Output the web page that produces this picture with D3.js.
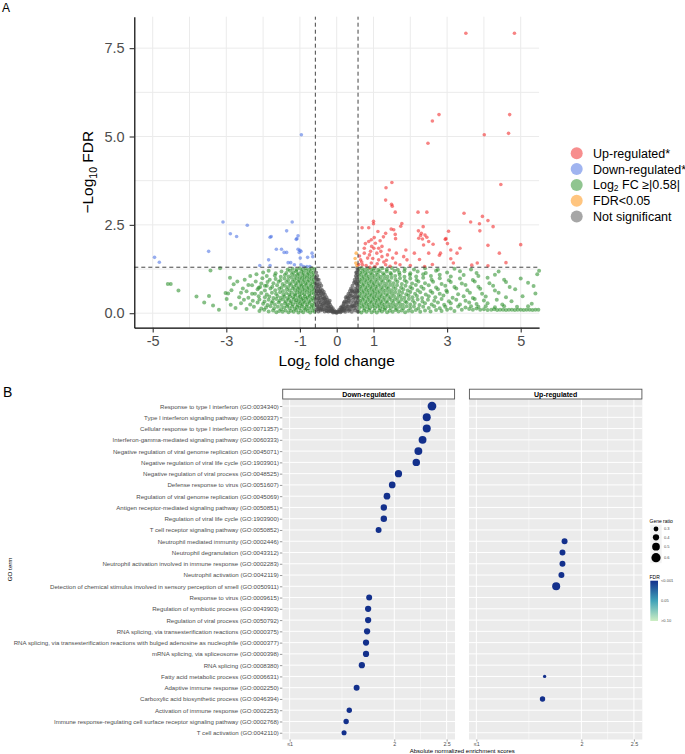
<!DOCTYPE html>
<html><head><meta charset="utf-8">
<script src="https://cdn.jsdelivr.net/npm/d3@7"></script>
<style>body{margin:0;background:#fff}svg{display:block;font-family:"Liberation Sans",Arial,Helvetica,sans-serif}</style>
</head><body><svg id="c" width="685" height="754"></svg>
<script>
// ---------------- Panel A data (log2FC, -log10 FDR) ----------------
const upPoints = [
[3.51,7.92],[4.83,7.92],[2.78,5.62],[2.6,5.44],[4.7,5.62],[4.67,5.09],[4.01,5.05],[2.48,4.81],[1.5,3.7],[1.34,3.55],[4.46,3.64],[1.33,3.2],[1.49,3.08],[1.51,3.03],[1.59,2.86],[2.21,2.86],[2.45,2.86],[3.46,2.83],[3.96,2.74],[4.11,2.62],[3.64,2.58],[3.88,2.53],[4.25,2.45],[3.89,2.33],[4.11,1.92],[5.0,1.94],[4.42,1.7],[4.6,1.43],[3.04,2.32],[2.95,2.09],[2.97,2.11],[3.01,1.97],[3.1,1.79],[3.35,1.84],[3.27,1.7],[2.82,1.7],[2.79,1.64],[3.1,1.54],[3.17,1.42],[3.82,1.42],[3.67,1.36],[2.39,1.32],[4.11,1.34],
[2.22,2.33],[2.35,2.45],[2.3,2.26],[2.4,2.21],[2.45,2.15],[2.5,2.03],[2.23,2.12],[2.36,1.93],[2.62,1.95],[2.11,1.7],[2.5,1.7],[2.28,2.2],[2.33,2.1],
[1.77,2.54],[1.74,2.46],[1.48,2.38],[1.55,2.36],[1.33,2.26],[1.59,2.23],[1.6,2.11],[1.27,2.16],[1.12,2.31],[1.0,2.6],[1.0,2.53],[0.87,2.42],[0.69,2.42],[1.02,2.14],[0.94,2.08],[0.87,2.03],[1.14,1.84],[1.01,1.84],[0.75,1.7],[0.89,1.65],[1.23,1.89],[1.43,1.79],[1.38,1.65],[1.52,1.56],[1.82,1.6],[1.88,1.79],[1.91,1.51],[1.14,1.51],[0.94,1.42],[0.65,1.51],[0.7,1.37],[1.33,1.37],[1.04,1.32],[1.72,1.37],[0.75,1.84],[0.95,1.89],[1.09,1.7],[1.23,1.6],[0.84,1.56],
[0.62,1.62],[0.68,1.45],[0.8,1.35],[0.92,1.75],[1.05,1.98],[1.18,2.05],[1.28,1.45],[1.45,1.33],[1.6,1.42],[0.78,1.97],[0.98,1.55],[1.2,1.75],[1.62,1.7],[2.0,1.35],[2.6,1.38],[2.25,1.52],[0.6,1.38],[0.9,1.3],[1.1,1.4],[1.35,1.5]
];
const downPoints = [
[-0.96,5.05],[-3.09,2.58],[-2.43,2.49],[-2.89,2.25],[-2.72,2.17],[-1.21,2.58],[-1.36,2.33],[-1.78,2.17],[-1.81,2.15],[-1.05,2.19],[-1.08,2.11],[-1.1,2.09],[-3.48,1.75],[-1.64,1.81],[-1.5,1.81],[-1.43,1.72],[-1.36,1.72],[-1.05,1.81],[-1.0,1.78],[-1.02,1.72],[-0.97,1.75],[-0.67,1.7],[-0.65,1.6],[-4.95,1.58],[-4.82,1.44],[-1.85,1.51],[-1.81,1.35],[-2.09,1.35],[-1.32,1.43],[-1.25,1.43],[-1.15,1.37],[-0.97,1.37],[-0.9,1.32],[-0.81,1.32],[-0.73,1.32],[-0.99,1.56],[-0.79,1.58]
];
const fdrOnlyPoints = [[0.5,1.55],[0.53,1.7],[0.52,1.42],[0.55,1.35]];
const fcOnlyLeft = [
[-0.6,0.04],[-0.66,0.08],[-0.72,0.02],[-0.79,0.06],[-0.85,0.1],[-0.91,0.03],[-0.97,0.07],[-1.04,0.02],[-1.1,0.09],[-1.17,0.04],[-1.24,0.07],[-1.31,0.03],[-1.39,0.08],[-1.47,0.04],[-1.56,0.06],[-1.64,0.03],[-1.73,0.08],[-1.85,0.05],[-1.97,0.1],[-2.1,0.06],
[-0.62,0.15],[-0.69,0.18],[-0.75,0.13],[-0.82,0.19],[-0.88,0.14],[-0.95,0.2],[-1.01,0.15],[-1.08,0.18],[-1.14,0.13],[-1.21,0.19],[-1.28,0.14],[-1.35,0.2],[-1.43,0.16],[-1.51,0.12],[-1.6,0.18],[-1.7,0.14],[-1.8,0.2],[-1.92,0.16],[-2.05,0.13],[-2.25,0.18],[-2.45,0.12],
[-0.61,0.26],[-0.67,0.23],[-0.73,0.29],[-0.8,0.24],[-0.86,0.3],[-0.93,0.25],[-0.99,0.28],[-1.06,0.23],[-1.12,0.3],[-1.19,0.25],[-1.26,0.29],[-1.33,0.24],[-1.41,0.28],[-1.5,0.23],[-1.58,0.3],[-1.68,0.25],[-1.77,0.29],[-1.88,0.23],[-2.0,0.27],[-2.15,0.3],[-2.35,0.25],[-2.6,0.28],
[-0.63,0.35],[-0.7,0.38],[-0.76,0.33],[-0.83,0.4],[-0.9,0.34],[-0.96,0.39],[-1.03,0.33],[-1.1,0.37],[-1.16,0.4],[-1.23,0.34],[-1.3,0.38],[-1.38,0.33],[-1.46,0.39],[-1.55,0.35],[-1.64,0.4],[-1.74,0.34],[-1.85,0.38],[-1.96,0.33],[-2.1,0.39],[-2.28,0.35],[-2.52,0.38],
[-0.6,0.46],[-0.66,0.43],[-0.73,0.49],[-0.79,0.44],[-0.86,0.48],[-0.92,0.42],[-0.99,0.47],[-1.05,0.43],[-1.12,0.5],[-1.19,0.45],[-1.27,0.48],[-1.34,0.42],[-1.42,0.47],[-1.52,0.44],[-1.61,0.49],[-1.72,0.43],[-1.83,0.47],[-1.95,0.45],[-2.12,0.48],[-2.4,0.44],
[-0.62,0.55],[-0.68,0.58],[-0.75,0.53],[-0.81,0.6],[-0.88,0.54],[-0.94,0.57],[-1.01,0.52],[-1.07,0.59],[-1.14,0.54],[-1.22,0.58],[-1.29,0.53],[-1.37,0.57],[-1.45,0.52],[-1.54,0.59],[-1.65,0.55],[-1.76,0.58],[-1.9,0.53],[-2.05,0.57],[-2.22,0.55],[-2.6,0.58],[-2.95,0.56],
[-0.61,0.65],[-0.67,0.68],[-0.74,0.63],[-0.8,0.7],[-0.87,0.64],[-0.93,0.68],[-1.0,0.62],[-1.06,0.69],[-1.13,0.65],[-1.2,0.7],[-1.28,0.64],[-1.36,0.68],[-1.46,0.63],[-1.56,0.69],[-1.67,0.65],[-1.8,0.7],[-1.95,0.64],[-2.15,0.68],[-2.45,0.62],
[-0.63,0.75],[-0.69,0.78],[-0.76,0.73],[-0.82,0.8],[-0.89,0.74],[-0.95,0.78],[-1.02,0.72],[-1.09,0.79],[-1.16,0.75],[-1.24,0.8],[-1.32,0.74],[-1.41,0.78],[-1.5,0.73],[-1.62,0.79],[-1.75,0.75],[-1.9,0.78],[-2.08,0.74],[-2.3,0.79],
[-0.6,0.85],[-0.66,0.88],[-0.72,0.83],[-0.79,0.9],[-0.85,0.84],[-0.92,0.88],[-0.98,0.82],[-1.05,0.89],[-1.12,0.85],[-1.2,0.9],[-1.28,0.84],[-1.37,0.88],[-1.47,0.83],[-1.58,0.89],[-1.72,0.85],[-1.88,0.88],[-2.05,0.84],
[-0.62,0.95],[-0.68,0.98],[-0.75,0.93],[-0.81,1.0],[-0.88,0.94],[-0.94,0.98],[-1.01,0.92],[-1.08,0.99],[-1.15,0.95],[-1.23,1.0],[-1.32,0.94],[-1.42,0.98],[-1.53,0.93],[-1.66,0.97],[-1.82,0.95],[-2.02,0.99],
[-0.61,1.05],[-0.67,1.08],[-0.74,1.03],[-0.8,1.1],[-0.87,1.04],[-0.93,1.08],[-1.0,1.02],[-1.07,1.09],[-1.14,1.05],[-1.22,1.1],[-1.31,1.04],[-1.41,1.08],[-1.52,1.03],[-1.68,1.07],[-1.9,1.05],
[-0.63,1.15],[-0.7,1.18],[-0.76,1.13],[-0.83,1.2],[-0.9,1.14],[-0.96,1.18],[-1.03,1.12],[-1.1,1.19],[-1.18,1.15],[-1.27,1.2],[-1.37,1.14],[-1.5,1.18],[-1.66,1.13],
[-0.6,1.25],[-0.68,1.27],[-0.75,1.23],[-0.84,1.28],[-0.92,1.24],[-1.0,1.27],[-1.09,1.23],[-1.2,1.26],[-1.33,1.24],
[-4.59,0.83],[-4.51,0.83],[-4.3,0.64],[-3.81,0.47],[-3.47,0.49],[-3.36,0.22],[-3.43,1.21],[-3.17,1.27],[-3.02,0.57],[-2.99,0.4],[-2.88,0.24],[-2.86,0.65],[-2.8,0.82],[-2.7,0.9],[-2.65,0.45],[-2.55,0.7],[-2.5,0.95],[-2.4,0.8],[-2.35,1.05],[-2.3,0.55],[-2.2,0.9],[-2.18,1.1],[-2.12,0.72],[-2.0,1.15],[-1.95,0.78],[-1.85,1.2],[-2.75,0.15],[-3.2,0.1],[-3.6,0.3],[-2.9,1.0]
];
const fcOnlyRight = [
[0.6,0.05],[0.67,0.02],[0.74,0.08],[0.81,0.04],[0.88,0.09],[0.95,0.03],[1.02,0.07],[1.09,0.02],[1.16,0.08],[1.23,0.05],[1.3,0.1],[1.37,0.03],[1.44,0.07],[1.52,0.04],[1.6,0.09],[1.68,0.05],[1.77,0.08],[1.86,0.03],[1.95,0.07],[2.05,0.05],[2.15,0.09],[2.27,0.04],[2.4,0.08],[2.55,0.05],[2.7,0.09],[2.85,0.06],[3.0,0.1],[3.2,0.06],[3.4,0.1],
[3.6,0.12],[3.7,0.1],[3.8,0.13],[3.9,0.1],[4.0,0.11],[4.1,0.09],[4.2,0.1],[4.28,0.11],[4.36,0.09],[4.44,0.1],[4.52,0.1],[4.6,0.09],[4.68,0.1],[4.76,0.1],[4.84,0.09],[4.92,0.1],[5.0,0.1],[5.08,0.09],[5.16,0.1],[5.24,0.1],[5.32,0.09],[5.4,0.1],[5.48,0.1],
[0.62,0.15],[0.69,0.19],[0.76,0.13],[0.83,0.18],[0.9,0.14],[0.97,0.2],[1.04,0.15],[1.11,0.19],[1.18,0.13],[1.25,0.18],[1.32,0.14],[1.39,0.2],[1.47,0.15],[1.55,0.19],[1.63,0.13],[1.72,0.18],[1.81,0.14],[1.9,0.2],[2.0,0.15],[2.1,0.19],[2.22,0.13],[2.35,0.18],[2.5,0.15],[2.65,0.2],[2.8,0.14],[2.95,0.18],[3.1,0.13],[3.3,0.19],[3.5,0.16],[3.65,0.2],[3.85,0.18],[4.05,0.2],[4.3,0.17],[4.55,0.2],[4.9,0.18],[5.2,0.2],
[0.6,0.25],[0.67,0.29],[0.74,0.23],[0.81,0.28],[0.88,0.24],[0.95,0.3],[1.02,0.25],[1.09,0.29],[1.16,0.23],[1.23,0.28],[1.3,0.24],[1.38,0.3],[1.46,0.25],[1.54,0.29],[1.62,0.23],[1.71,0.28],[1.8,0.24],[1.9,0.3],[2.0,0.25],[2.12,0.29],[2.25,0.23],[2.4,0.28],[2.58,0.25],[2.75,0.3],[2.92,0.24],[3.1,0.28],[3.35,0.25],[3.6,0.3],[3.8,0.26],[4.1,0.28],[4.5,0.25],[5.3,0.27],
[0.63,0.35],[0.7,0.39],[0.77,0.33],[0.84,0.38],[0.91,0.34],[0.98,0.4],[1.05,0.35],[1.12,0.39],[1.19,0.33],[1.26,0.38],[1.34,0.34],[1.42,0.4],[1.5,0.35],[1.58,0.39],[1.67,0.33],[1.76,0.38],[1.86,0.34],[1.96,0.4],[2.07,0.35],[2.2,0.39],[2.33,0.33],[2.48,0.38],[2.65,0.35],[2.85,0.4],[3.05,0.34],[3.25,0.38],[3.5,0.35],[3.75,0.4],[4.0,0.36],[4.35,0.38],[4.75,0.34],
[0.6,0.45],[0.67,0.49],[0.74,0.43],[0.81,0.48],[0.88,0.44],[0.95,0.5],[1.02,0.45],[1.09,0.49],[1.16,0.43],[1.23,0.48],[1.31,0.44],[1.39,0.5],[1.47,0.45],[1.56,0.49],[1.65,0.43],[1.74,0.48],[1.84,0.44],[1.95,0.5],[2.06,0.45],[2.18,0.49],[2.32,0.43],[2.5,0.48],[2.68,0.45],[2.9,0.5],[3.15,0.44],[3.45,0.48],[3.7,0.43],[4.05,0.47],[4.6,0.45],[5.05,0.48],
[0.62,0.55],[0.69,0.59],[0.76,0.53],[0.83,0.58],[0.9,0.54],[0.97,0.6],[1.04,0.55],[1.11,0.59],[1.18,0.53],[1.26,0.58],[1.34,0.54],[1.42,0.6],[1.5,0.55],[1.59,0.59],[1.68,0.53],[1.78,0.58],[1.89,0.54],[2.0,0.6],[2.13,0.55],[2.27,0.59],[2.42,0.53],[2.6,0.58],[2.8,0.55],[3.0,0.6],[3.3,0.54],[3.62,0.58],[3.95,0.55],[4.4,0.58],[5.4,0.56],
[0.6,0.65],[0.67,0.69],[0.74,0.63],[0.81,0.68],[0.88,0.64],[0.95,0.7],[1.02,0.65],[1.09,0.69],[1.17,0.63],[1.25,0.68],[1.33,0.64],[1.41,0.7],[1.5,0.65],[1.6,0.69],[1.7,0.63],[1.81,0.68],[1.93,0.64],[2.05,0.7],[2.2,0.65],[2.36,0.69],[2.55,0.63],[2.75,0.68],[2.98,0.64],[3.25,0.7],[3.55,0.65],[3.9,0.69],[4.3,0.64],[4.85,0.68],
[0.63,0.75],[0.7,0.79],[0.77,0.73],[0.84,0.78],[0.91,0.74],[0.98,0.8],[1.05,0.75],[1.12,0.79],[1.2,0.73],[1.28,0.78],[1.36,0.74],[1.45,0.8],[1.54,0.75],[1.64,0.79],[1.75,0.73],[1.87,0.78],[2.0,0.74],[2.15,0.8],[2.3,0.75],[2.5,0.79],[2.7,0.73],[2.95,0.78],[3.2,0.74],[3.5,0.8],[3.85,0.75],[4.25,0.78],[4.7,0.74],[5.35,0.77],
[0.6,0.85],[0.67,0.89],[0.74,0.83],[0.81,0.88],[0.88,0.84],[0.95,0.9],[1.02,0.85],[1.1,0.89],[1.18,0.83],[1.26,0.88],[1.35,0.84],[1.44,0.9],[1.54,0.85],[1.65,0.89],[1.77,0.83],[1.9,0.88],[2.05,0.84],[2.22,0.9],[2.4,0.85],[2.62,0.89],[2.85,0.83],[3.1,0.88],[3.4,0.84],[3.75,0.9],[4.15,0.85],[4.6,0.88],[5.2,0.86],
[0.62,0.95],[0.69,0.99],[0.76,0.93],[0.83,0.98],[0.9,0.94],[0.97,1.0],[1.05,0.95],[1.13,0.99],[1.21,0.93],[1.3,0.98],[1.39,0.94],[1.49,1.0],[1.6,0.95],[1.72,0.99],[1.85,0.93],[2.0,0.98],[2.17,0.94],[2.35,1.0],[2.58,0.95],[2.8,0.99],[3.05,0.93],[3.35,0.98],[3.7,0.94],[4.1,1.0],[4.55,0.95],[5.0,0.98],
[0.6,1.05],[0.67,1.09],[0.74,1.03],[0.81,1.08],[0.88,1.04],[0.96,1.1],[1.04,1.05],[1.12,1.09],[1.2,1.03],[1.29,1.08],[1.38,1.04],[1.48,1.1],[1.59,1.05],[1.71,1.09],[1.84,1.03],[1.99,1.08],[2.16,1.04],[2.35,1.1],[2.56,1.05],[2.8,1.09],[3.1,1.04],[3.45,1.08],[3.85,1.05],[4.3,1.09],[5.45,1.1],
[0.63,1.15],[0.7,1.19],[0.77,1.13],[0.84,1.18],[0.92,1.14],[1.0,1.2],[1.08,1.15],[1.17,1.19],[1.26,1.13],[1.36,1.18],[1.46,1.14],[1.57,1.2],[1.7,1.15],[1.84,1.19],[2.0,1.13],[2.2,1.18],[2.42,1.14],[2.7,1.2],[3.0,1.15],[3.35,1.19],[3.8,1.14],[4.4,1.18],[5.5,1.2],
[0.6,1.25],[0.68,1.28],[0.76,1.23],[0.85,1.27],[0.94,1.24],[1.03,1.28],[1.13,1.23],[1.24,1.27],[1.36,1.24],[1.5,1.28],[1.66,1.23],[1.85,1.26],[2.1,1.24],[2.4,1.27],[2.75,1.23],[3.2,1.26],[3.65,1.24]
];
const nsPoints = [
[-0.56,1.15],[-0.55,0.95],[-0.57,0.72],[-0.54,0.5],[-0.56,0.3],[-0.55,0.1],[-0.53,1.05],[-0.52,0.82],[-0.53,0.62],[-0.51,0.4],[-0.52,0.2],[-0.5,0.05],[-0.49,0.95],[-0.48,0.75],[-0.5,0.55],[-0.47,0.35],[-0.48,0.15],[-0.46,0.85],[-0.45,0.62],[-0.44,0.45],[-0.45,0.25],[-0.44,0.08],[-0.42,0.78],[-0.41,0.55],[-0.4,0.38],[-0.42,0.18],[-0.39,0.65],[-0.38,0.48],[-0.37,0.28],[-0.38,0.1],[-0.35,0.6],[-0.34,0.42],[-0.35,0.22],[-0.33,0.05],[-0.32,0.52],[-0.31,0.33],[-0.3,0.15],[-0.28,0.45],[-0.27,0.28],[-0.28,0.08],[-0.25,0.38],[-0.24,0.2],[-0.23,0.05],[-0.21,0.3],[-0.2,0.14],[-0.18,0.24],[-0.17,0.06],[-0.15,0.18],[-0.13,0.1],[-0.11,0.14],[-0.09,0.05],[-0.07,0.08],[-0.05,0.03],[-0.03,0.04],[-0.01,0.01],
[0.01,0.02],[0.03,0.05],[0.05,0.04],[0.07,0.1],[0.09,0.06],[0.11,0.16],[0.13,0.09],[0.15,0.2],[0.17,0.07],[0.19,0.27],[0.2,0.13],[0.22,0.33],[0.23,0.04],[0.25,0.22],[0.26,0.4],[0.28,0.12],[0.29,0.48],[0.3,0.3],[0.32,0.55],[0.32,0.06],[0.33,0.2],[0.35,0.4],[0.36,0.63],[0.37,0.12],[0.38,0.3],[0.39,0.7],[0.4,0.5],[0.41,0.04],[0.42,0.22],[0.43,0.78],[0.44,0.38],[0.45,0.6],[0.46,0.13],[0.47,0.86],[0.47,0.3],[0.48,0.48],[0.49,0.95],[0.5,0.7],[0.5,0.08],[0.51,0.22],[0.52,1.05],[0.52,0.4],[0.53,0.85],[0.54,0.58],[0.54,0.15],[0.55,1.15],[0.55,0.3],[0.56,0.95],[0.56,0.72],[0.57,1.22],[0.57,0.48],[0.57,0.05],[0.56,1.28],
[-0.565,0.85],[-0.545,0.62],[-0.575,0.4],[-0.535,0.22],[-0.505,0.7],[-0.495,0.3],[-0.465,0.5],[-0.455,0.12],[-0.435,0.68],[-0.425,0.3],[-0.395,0.22],[-0.365,0.55],[-0.355,0.12],[-0.325,0.42],[-0.295,0.24],[-0.265,0.15],[-0.225,0.28],[-0.195,0.08],[-0.16,0.13],[-0.12,0.05],[0.12,0.05],[0.16,0.12],[0.2,0.3],[0.24,0.14],[0.27,0.32],[0.31,0.44],[0.34,0.1],[0.365,0.48],[0.395,0.2],[0.425,0.62],[0.455,0.45],[0.485,0.22],[0.505,0.55],[0.525,0.3],[0.545,0.82],[0.565,0.62],[0.575,0.35],[0.545,1.0],[0.575,0.9],
[-0.57,1.0],[-0.56,0.55],[-0.54,0.78],[-0.52,0.95],[-0.51,0.12],[-0.49,0.42],[-0.47,0.62],[-0.43,0.58],[-0.41,0.12],[-0.37,0.4],[-0.33,0.3],[-0.29,0.36],[-0.26,0.06],[-0.22,0.18],[-0.19,0.35],[-0.14,0.06],[-0.1,0.02],
[0.1,0.03],[0.14,0.14],[0.18,0.2],[0.21,0.08],[0.25,0.45],[0.29,0.2],[0.33,0.36],[0.37,0.55],[0.41,0.65],[0.44,0.2],[0.48,0.62],[0.5,0.88],[0.53,1.15],[0.55,0.45],[0.56,1.1],[0.57,0.78],[0.55,0.65]
];
const volcanoXTicks = [-5,-3,-1,0,1,3,5];
const volcanoYTicks = [0,2.5,5,7.5];
const fcCut = 0.58, fdrCut = 1.301;
const legendLabels = ["Up-regulated*","Down-regulated*","Log2 FC ≥|0.58|","FDR<0.05","Not significant"];

// ---------------- Panel B data ----------------
const goTerms = [
"Response to type I interferon (GO:0034340)",
"Type I interferon signaling pathway (GO:0060337)",
"Cellular response to type I interferon (GO:0071357)",
"Interferon-gamma-mediated signaling pathway (GO:0060333)",
"Negative regulation of viral genome replication (GO:0045071)",
"Negative regulation of viral life cycle (GO:1903901)",
"Negative regulation of viral process (GO:0048525)",
"Defense response to virus (GO:0051607)",
"Regulation of viral genome replication (GO:0045069)",
"Antigen receptor-mediated signaling pathway (GO:0050851)",
"Regulation of viral life cycle (GO:1903900)",
"T cell receptor signaling pathway (GO:0050852)",
"Neutrophil mediated immunity (GO:0002446)",
"Neutrophil degranulation (GO:0043312)",
"Neutrophil activation involved in immune response (GO:0002283)",
"Neutrophil activation (GO:0042119)",
"Detection of chemical stimulus involved in sensory perception of smell (GO:0050911)",
"Response to virus (GO:0009615)",
"Regulation of symbiotic process (GO:0043903)",
"Regulation of viral process (GO:0050792)",
"RNA splicing, via transesterification reactions (GO:0000375)",
"RNA splicing, via transesterification reactions with bulged adenosine as nucleophile (GO:0000377)",
"mRNA splicing, via spliceosome (GO:0000398)",
"RNA splicing (GO:0008380)",
"Fatty acid metabolic process (GO:0006631)",
"Adaptive immune response (GO:0002250)",
"Carboxylic acid biosynthetic process (GO:0046394)",
"Activation of immune response (GO:0002253)",
"Immune response-regulating cell surface receptor signaling pathway (GO:0002768)",
"T cell activation (GO:0042110)"
];
const downNES = [2.36,2.31,2.31,2.27,2.23,2.21,2.04,1.98,1.93,1.90,1.90,1.85,null,null,null,null,null,1.76,1.75,1.75,1.74,1.73,1.73,1.69,null,1.64,null,1.57,1.54,1.52];
const downRatio = [0.57,0.52,0.52,0.51,0.51,0.48,0.47,0.43,0.43,0.41,0.41,0.38,null,null,null,null,null,0.38,0.40,0.40,0.40,0.40,0.40,0.40,null,0.38,null,0.34,0.34,0.32];
const downFDR = [0.0005,0.0005,0.0005,0.0005,0.0005,0.0005,0.0005,0.0005,0.0005,0.0005,0.0005,0.0005,null,null,null,null,null,0.0005,0.0005,0.0005,0.0005,0.0005,0.0005,0.0005,null,0.0005,null,0.0005,0.0005,0.0005];
const upNES = [null,null,null,null,null,null,null,null,null,null,null,null,1.84,1.82,1.82,1.81,1.76,null,null,null,null,null,null,null,1.65,null,1.63,null,null,null];
const upRatio = [null,null,null,null,null,null,null,null,null,null,null,null,0.38,0.38,0.38,0.38,0.52,null,null,null,null,null,null,null,0.20,null,0.34,null,null,null];
const upFDR = [null,null,null,null,null,null,null,null,null,null,null,null,0.0005,0.0005,0.0005,0.0005,0.0005,null,null,null,null,null,null,null,0.0005,null,0.0005,null,null,null];
const nesTicks = [1,2,2.5];
const nesTickLabels = ["≤1","2","2.5"];
const nesMinor = [1.5,2.25];
const ratioLegend = [0.3,0.4,0.5,0.6];
const fdrLegend = ["<0.001","0.05",">0.10"];

// ---------------- Draw ----------------
const svg = d3.select("#c");
const grey30 = "#4d4d4d";

// ===== Panel A =====
svg.append("text").attr("x",2).attr("y",12).attr("font-size",12).text("A");
const xA = d3.scaleLinear().domain([-5.5,5.5]).range([134.3,539.1]);
const yA = d3.scaleLinear().domain([-0.41,8.39]).range([327.7,16.7]);
const gA = svg.append("g");
gA.selectAll(".vg").data(xA.ticks(11)).join("line")
  .attr("x1",d=>xA(d)).attr("x2",d=>xA(d)).attr("y1",yA.range()[0]).attr("y2",yA.range()[1])
  .attr("stroke","#ebebeb").attr("stroke-width",1);
gA.selectAll(".hg").data(d3.range(0,7.6,1.25)).join("line")
  .attr("y1",d=>yA(d)).attr("y2",d=>yA(d)).attr("x1",xA.range()[0]).attr("x2",xA.range()[1])
  .attr("stroke","#ebebeb").attr("stroke-width",1);

const groups = [
  {pts: fcOnlyLeft.concat(fcOnlyRight), col:"#228b22", r:2.0, op:0.55},
  {pts: nsPoints, col:"#4d4d4d", r:2.0, op:0.65},
  {pts: fdrOnlyPoints, col:"#ff8c00", r:1.8, op:0.55},
  {pts: downPoints, col:"#4169e1", r:1.8, op:0.55},
  {pts: upPoints, col:"#f01e1e", r:1.8, op:0.55}
];
groups.forEach(g=>{
  gA.append("g").selectAll("circle").data(g.pts).join("circle")
    .attr("cx",d=>xA(d[0])).attr("cy",d=>yA(d[1])).attr("r",g.r)
    .attr("fill",g.col).attr("fill-opacity",g.op);
});
[-fcCut, fcCut].forEach(v=>{
  gA.append("line").attr("x1",xA(v)).attr("x2",xA(v)).attr("y1",yA.range()[0]).attr("y2",yA.range()[1])
    .attr("stroke","#444").attr("stroke-width",1).attr("stroke-dasharray","4,3");
});
gA.append("line").attr("x1",xA.range()[0]).attr("x2",xA.range()[1]).attr("y1",yA(fdrCut)).attr("y2",yA(fdrCut))
  .attr("stroke","#444").attr("stroke-width",1).attr("stroke-dasharray","4,3");

const axL = gA.append("g").attr("transform",`translate(${xA.range()[0]},0)`)
  .call(d3.axisLeft(yA).tickValues(volcanoYTicks).tickFormat(d3.format(".1f")).tickSize(4.7).tickSizeOuter(0).tickPadding(5));
const axB = gA.append("g").attr("transform",`translate(0,${yA.range()[0]})`)
  .call(d3.axisBottom(xA).tickValues(volcanoXTicks).tickFormat(d=>String(d)).tickSize(4.7).tickSizeOuter(0).tickPadding(3.2));
[axL,axB].forEach(a=>{
  a.select(".domain").attr("stroke","#000").attr("stroke-width",1.2);
  a.selectAll(".tick line").attr("stroke","#333").attr("stroke-width",1.1);
  a.selectAll(".tick text").attr("fill",grey30).attr("font-size",14.5).attr("font-family","Liberation Sans, Arial, sans-serif");
});
const xt = gA.append("text").attr("x",(xA.range()[0]+xA.range()[1])/2).attr("y",365.5).attr("text-anchor","middle").attr("font-size",15.5);
xt.append("tspan").text("Log");
xt.append("tspan").attr("font-size",10.5).attr("dy",4).text("2");
xt.append("tspan").attr("dy",-4).text(" fold change");
const yt = gA.append("text").attr("transform",`translate(93,${(yA.range()[0]+yA.range()[1])/2}) rotate(-90)`).attr("text-anchor","middle").attr("font-size",15.5);
yt.append("tspan").text("−Log");
yt.append("tspan").attr("font-size",10.5).attr("dy",4).text("10");
yt.append("tspan").attr("dy",-4).text(" FDR");

const legCols = ["#f01e1e","#4169e1","#228b22","#ff8c00","#4d4d4d"];
const lg = svg.append("g");
legendLabels.forEach((lab,i)=>{
  const y = 153.3 + i*15.8;
  lg.append("circle").attr("cx",576.7).attr("cy",y).attr("r",6).attr("fill",legCols[i]).attr("fill-opacity",0.5);
  const t = lg.append("text").attr("x",593).attr("y",y).attr("dy","0.36em").attr("font-size",12.5);
  if (lab.startsWith("Log2")) {
    t.append("tspan").text("Log");
    t.append("tspan").attr("font-size",8.5).attr("dy",2).text("2");
    t.append("tspan").attr("dy",-2).text(lab.slice(4));
  } else t.text(lab);
});

// ===== Panel B =====
svg.append("text").attr("x",3).attr("y",397).attr("font-size",14).text("B");
const yB = d3.scalePoint().domain(goTerms).range([399.3,739.5]).padding(0.6);
const panels = [
  {name:"Down-regulated", x0:282.3, x1:455, nes:downNES, ratio:downRatio, fdr:downFDR},
  {name:"Up-regulated", x0:469, x1:642.3, nes:upNES, ratio:upRatio, fdr:upFDR}
];
const rScale = d3.scaleLinear().domain([0.3,0.6]).range([2.4,4.6]);
const cScale = d3.scaleLinear().domain([0.001,0.05,0.10]).range(["#13308c","#41a3b9","#cdeec3"]).clamp(true);

panels.forEach((p,pi)=>{
  const x = d3.scaleLinear().domain([0.93,2.58]).range([p.x0,p.x1]);
  const g = svg.append("g");
  const [yTop,yBot] = yB.range();
  g.append("rect").attr("x",p.x0).attr("y",yTop).attr("width",p.x1-p.x0).attr("height",yBot-yTop).attr("fill","#ebebeb");
  g.selectAll(".mn").data(nesMinor).join("line").attr("x1",d=>x(d)).attr("x2",d=>x(d)).attr("y1",yTop).attr("y2",yBot)
    .attr("stroke","#fff").attr("stroke-width",0.5);
  g.selectAll(".mj").data(nesTicks).join("line").attr("x1",d=>x(d)).attr("x2",d=>x(d)).attr("y1",yTop).attr("y2",yBot)
    .attr("stroke","#fff").attr("stroke-width",1);
  g.selectAll(".hr").data(goTerms).join("line").attr("x1",p.x0).attr("x2",p.x1).attr("y1",d=>yB(d)).attr("y2",d=>yB(d))
    .attr("stroke","#fff").attr("stroke-width",1);
  g.append("rect").attr("x",p.x0+0.4).attr("y",389.2).attr("width",p.x1-p.x0-0.8).attr("height",9.8)
    .attr("fill","#fff").attr("stroke","#555").attr("stroke-width",0.9);
  g.append("text").attr("x",(p.x0+p.x1)/2).attr("y",394.2).attr("dy","0.35em").attr("text-anchor","middle")
    .attr("font-size",7).attr("font-weight","bold").text(p.name);
  const rows = goTerms.map((t,i)=>({t, v:p.nes[i], r:p.ratio[i], f:p.fdr[i]})).filter(d=>d.v!=null);
  g.selectAll("circle").data(rows).join("circle").attr("cx",d=>x(d.v)).attr("cy",d=>yB(d.t))
    .attr("r",d=>rScale(d.r)).attr("fill",d=>cScale(d.f));
  const ax = g.append("g").attr("transform",`translate(0,${yBot})`)
    .call(d3.axisBottom(x).tickValues(nesTicks).tickFormat((d,i)=>nesTickLabels[i]).tickSize(2).tickSizeOuter(0).tickPadding(1));
  ax.select(".domain").remove();
  ax.selectAll(".tick line").attr("stroke","#333").attr("stroke-width",0.5);
  ax.selectAll(".tick text").attr("fill",grey30).attr("font-size",5.4);
  if (pi===0) {
    const ay = g.append("g").attr("transform",`translate(${p.x0},0)`)
      .call(d3.axisLeft(yB).tickSize(2.4).tickSizeOuter(0).tickPadding(1));
    ay.select(".domain").remove();
    ay.selectAll(".tick line").attr("stroke","#333").attr("stroke-width",0.5);
    ay.selectAll(".tick text").attr("fill",grey30).attr("font-size",6.1);
  }
});
svg.append("text").attr("transform",`translate(12,${(yB.range()[0]+yB.range()[1])/2}) rotate(-90)`)
  .attr("text-anchor","middle").attr("font-size",6.2).text("GO term");
svg.append("text").attr("x",(282.3+642.3)/2).attr("y",753.3).attr("text-anchor","middle").attr("font-size",6)
  .text("Absolute normalized enrichment scores");

const lb = svg.append("g");
lb.append("text").attr("x",649.5).attr("y",522.5).attr("font-size",5).text("Gene ratio");
const keyY = [529, 537.3, 546.7, 557.7];
lb.append("rect").attr("x",650.3).attr("y",524.6).attr("width",11.4).attr("height",38.6).attr("fill","#f2f2f2");
ratioLegend.forEach((v,i)=>{
  lb.append("circle").attr("cx",656).attr("cy",keyY[i]).attr("r",rScale(v)).attr("fill","#000");
  lb.append("text").attr("x",664).attr("y",keyY[i]).attr("dy","0.35em").attr("font-size",4).attr("fill",grey30).text(v.toFixed(1));
});
lb.append("text").attr("x",649.5).attr("y",578.5).attr("font-size",5).text("FDR");
const defs = svg.append("defs");
const grad = defs.append("linearGradient").attr("id","fdrg").attr("x1",0).attr("x2",0).attr("y1",0).attr("y2",1);
[0.001,0.0255,0.05,0.075,0.10].forEach((v,i)=>{
  grad.append("stop").attr("offset",(i/4)).attr("stop-color",cScale(v));
});
lb.append("rect").attr("x",650.3).attr("y",580.7).attr("width",7.7).attr("height",40.3).attr("fill","url(#fdrg)");
[580.9,600.9,620.9].forEach((y,i)=>{
  lb.append("text").attr("x",661).attr("y",y).attr("dy","0.35em").attr("font-size",4).attr("fill",grey30).text(fdrLegend[i]);
});
</script></body></html>
